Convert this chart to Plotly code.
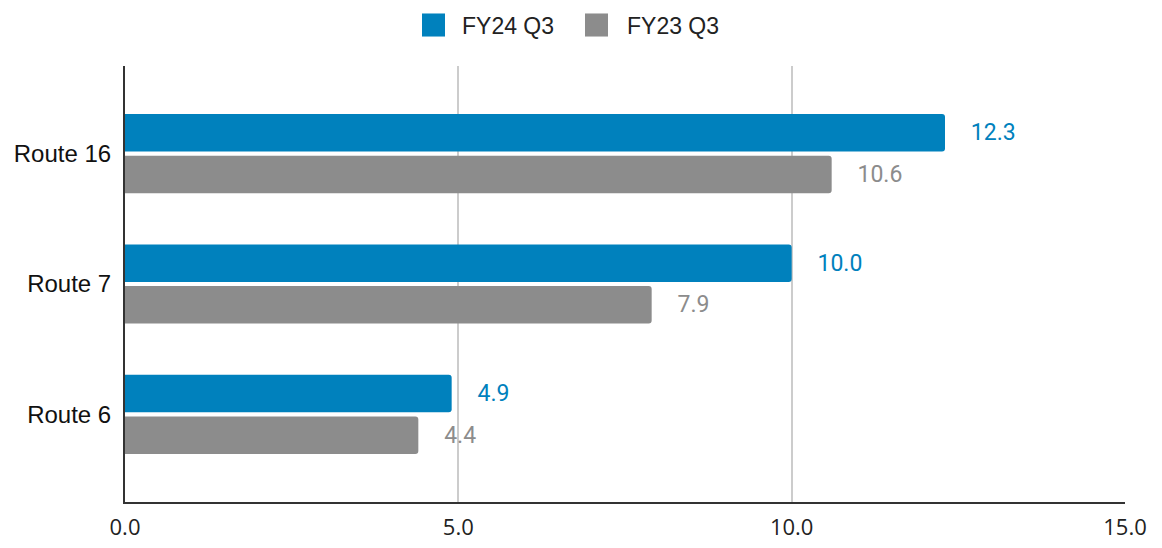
import plotly.graph_objects as go

categories = ["Route 16", "Route 7", "Route 6"]
fy24_q3 = [12.3, 10.0, 4.9]
fy23_q3 = [10.6, 7.9, 4.4]
series_names = ["FY24 Q3", "FY23 Q3"]
x_ticks = [0, 5, 10, 15]

BLUE = "#0081BD"
GRAY = "#8C8C8C"
PAD = "\u00a0" * 4

W, H = 1162, 553
L, R, T, B = 125, 37, 66, 48
PW, PH = W - L - R, H - T - B
VS = H / 548.0  # vertical capture scale


def px_x(px):  # target pixel x -> paper
    return (px - L) / PW


def px_y(py):  # target pixel y -> paper
    return (H - B - py * VS) / PH


fig = go.Figure()
for name, vals, col in [(series_names[0], fy24_q3, BLUE), (series_names[1], fy23_q3, GRAY)]:
    fig.add_trace(go.Bar(
        y=categories, x=vals, orientation="h", name=name,
        marker=dict(color=col, line=dict(width=0)),
        text=[f"{PAD}{v:.1f}" for v in vals],
        textposition="outside",
        textfont=dict(family="Roboto", size=23, color=col),
        cliponaxis=False,
        showlegend=False,
    ))

# manual legend
shapes = []
annotations = []
legend_items = [(series_names[0], BLUE, 422, 460), (series_names[1], GRAY, 585, 625)]
for name, col, sx, tx in legend_items:
    shapes.append(dict(
        type="rect", xref="paper", yref="paper",
        x0=px_x(sx), x1=px_x(sx + 23), y0=px_y(36), y1=px_y(13),
        fillcolor=col, line=dict(width=0),
    ))
    annotations.append(dict(
        text=name, xref="paper", yref="paper", x=px_x(tx), y=px_y(25),
        xanchor="left", yanchor="middle", showarrow=False,
        font=dict(family="Liberation Sans, Arial", size=23, color="#222222"),
    ))

fig.update_layout(
    width=W, height=H,
    margin=dict(l=L, r=R, t=T, b=B),
    paper_bgcolor="white", plot_bgcolor="white",
    barmode="group", bargap=0.36, bargroupgap=0.1,
    barcornerradius=3,
    showlegend=False,
    shapes=shapes, annotations=annotations,
    xaxis=dict(
        range=[0, 15], tickvals=x_ticks, tickformat=".1f",
        showgrid=True, gridcolor="#cccccc", gridwidth=2,
        zeroline=False,
        showline=True, linecolor="#333333", linewidth=2,
        tickfont=dict(family="Open Sans", size=22, color="#222222"),
        ticks="", ticklabelstandoff=5,
    ),
    yaxis=dict(
        type="category", categoryorder="array", categoryarray=categories,
        range=[2.673, -0.673],
        showline=True, linecolor="#333333", linewidth=2,
        showgrid=False, ticks="",
        tickfont=dict(family="Liberation Sans, Arial", size=24, color="#111111"),
        ticklabelstandoff=7,
    ),
)

fig.write_html(
    "out.html",
    config={"displayModeBar": False},
    post_script="document.body.style.margin='0';document.body.style.overflow='hidden';",
)
